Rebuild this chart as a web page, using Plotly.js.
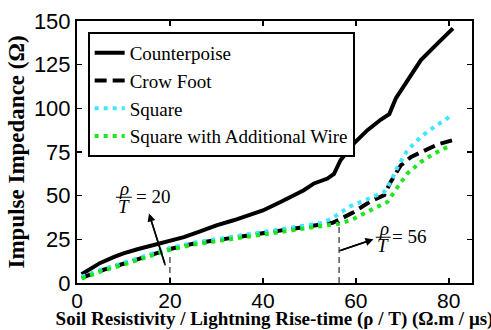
<!DOCTYPE html>
<html>
<head>
<meta charset="utf-8">
<script src="https://cdn.plot.ly/plotly-3.0.1.min.js"></script>
<style>html,body{margin:0;padding:0;background:#fff;}#chart{width:491px;height:330px;}</style>
</head>
<body>
<div id="chart"></div>
<script>
// Data
const seriesNames = ["Counterpoise", "Crow Foot", "Square", "Square with Additional Wire"];

const counterX = [1, 3, 5, 8, 10, 13, 15, 18, 20, 23, 26.5, 30, 33.7, 37.3, 40, 43.8, 46.7, 48.8, 51, 53.9, 55.3, 56.7, 59.6, 62.5, 65.4, 67.2, 68.6, 71.1, 74, 77.6, 80.9];
const counterY = [5, 8.5, 11.5, 15, 17, 19.3, 20.8, 22.8, 24, 26.3, 29.5, 33, 35.9, 38.8, 41.5, 46.4, 50.3, 53.1, 57, 59.8, 62.5, 70.3, 79.9, 87.5, 93.6, 96.7, 105.7, 116.2, 127.6, 137.2, 145.8];

const crowX = [1, 5, 10, 15, 20, 25, 30, 35, 40, 45, 50, 55, 56.4, 59.6, 63.2, 66.1, 67.5, 69.7, 71.9, 74.8, 77.6, 80.9];
const crowY = [3, 7, 11, 15.5, 19.5, 22.5, 24.5, 26.5, 28.5, 30.5, 32.5, 34.5, 36.2, 40.7, 46.8, 50.3, 57.9, 67.4, 72.2, 76, 79.3, 81.8];

const squareX = [1, 5, 10, 15, 20, 25, 30, 35, 40, 45, 50, 53, 54.8, 56.5, 58.9, 61.1, 63.9, 66.1, 67.5, 69, 71.1, 74, 76.9, 80.1];
const squareY = [3.5, 7.5, 11.5, 16, 20, 23, 25, 27, 29, 31, 33, 34.5, 37, 40, 44, 46.4, 49.3, 52.1, 57.9, 66.5, 76, 83.7, 89.4, 95.1];

const wireX = [1, 5, 10, 15, 20, 25, 30, 35, 40, 45, 50, 55, 56.7, 59.6, 63.2, 66.8, 69, 71.1, 74, 76.9, 80.5];
const wireY = [2.5, 6.5, 10.5, 15, 19, 22, 24, 26, 28, 30, 32, 33.5, 34, 36.9, 41.7, 46.4, 55, 62.7, 69.3, 74.2, 78.9];

const xTicks = [0, 20, 40, 60, 80];
const yTicks = [0, 25, 50, 75, 100, 125, 150];

// Marked ratios
const ratioA = 20, ratioALineTop = 15;
const ratioB = 56.4, ratioBLineTop = 35;

const serif = "Liberation Serif";
const sans = "Liberation Sans";

const traces = [
  {x: counterX, y: counterY, name: seriesNames[0], mode: "lines",
   line: {color: "#000000", width: 4}},
  {x: crowX, y: crowY, name: seriesNames[1], mode: "lines",
   line: {color: "#000000", width: 4, dash: "12px,6px"}},
  {x: squareX, y: squareY, name: seriesNames[2], mode: "lines",
   line: {color: "#3ee6ff", width: 4, dash: "4px,5px"}},
  {x: wireX, y: wireY, name: seriesNames[3], mode: "lines",
   line: {color: "#1ee61e", width: 4, dash: "4px,5px"}}
];

const fracFont = {family: serif, size: 19, color: "#000"};
const tinyFont = {family: serif, size: 1, color: "#000"};
const layout = {
  width: 491, height: 330,
  margin: {l: 77, r: 19, t: 21, b: 47},
  paper_bgcolor: "#fff", plot_bgcolor: "#fff",
  font: {family: serif, color: "#000"},
  showlegend: true,
  legend: {
    x: 0.027, y: 0.958, xanchor: "left", yanchor: "top",
    bgcolor: "#fff", bordercolor: "#000", borderwidth: 2,
    font: {family: serif, size: 19, color: "#000"},
    itemwidth: 30, tracegroupgap: 0
  },
  xaxis: {
    range: [0, 85], tickvals: xTicks, ticktext: xTicks.map(String),
    showgrid: false, zeroline: false, showline: true, mirror: "ticks",
    linecolor: "#000", linewidth: 2, ticks: "inside", ticklen: 5, tickwidth: 1.5, tickcolor: "#000",
    tickfont: {family: sans, size: 21, color: "#000"}, ticklabelstandoff: -2,
    title: {text: "<b>Soil Resistivity / Lightning Rise-time (ρ / T) (Ω.m / μs)</b>",
            font: {family: serif, size: 19, color: "#000"}, standoff: 0}
  },
  yaxis: {
    range: [0, 150], tickvals: yTicks, ticktext: yTicks.map(String),
    showgrid: false, zeroline: false, showline: true, mirror: "ticks",
    linecolor: "#000", linewidth: 2, ticks: "inside", ticklen: 5, tickwidth: 1.5, tickcolor: "#000",
    tickfont: {family: sans, size: 22, color: "#000"},
    title: {text: "<b>Impulse Impedance (Ω)</b>",
            font: {family: serif, size: 23, color: "#000"}, standoff: 3}
  },
  shapes: [
    {type: "line", xref: "x", yref: "y", x0: ratioA, x1: ratioA, y0: 0, y1: ratioALineTop,
     line: {color: "#000", width: 1, dash: "6px,4px"}},
    {type: "line", xref: "x", yref: "y", x0: ratioB, x1: ratioB, y0: 0, y1: ratioBLineTop,
     line: {color: "#000", width: 1, dash: "6px,4px"}},
    {type: "line", xref: "x", yref: "y", x0: 8.4, x1: 11.8, y0: 49.1, y1: 49.1,
     line: {color: "#000", width: 1}},
    {type: "line", xref: "x", yref: "y", x0: 64.3, x1: 67.5, y0: 26.2, y1: 26.2,
     line: {color: "#000", width: 1}},
    {type: "line", xref: "x", yref: "y", x0: 19, y0: 10.1, x1: 15.7, y1: 38,
     line: {color: "#000", width: 1.5}},
    {type: "line", xref: "x", yref: "y", x0: 56.5, y0: 18.5, x1: 63, y1: 24.3,
     line: {color: "#000", width: 1.5}}
  ],
  annotations: [
    {x: 15.5, y: 39.8, ax: 19, ay: 10.1, xref: "x", yref: "y", axref: "x", ayref: "y",
     text: " ", font: tinyFont, standoff: 0, startstandoff: 0,
     showarrow: true, arrowhead: 2, arrowsize: 1, arrowwidth: 1.6, arrowcolor: "#000"},
    {x: 63.8, y: 25, ax: 56.5, ay: 18.5, xref: "x", yref: "y", axref: "x", ayref: "y",
     text: " ", font: tinyFont, standoff: 0, startstandoff: 0,
     showarrow: true, arrowhead: 2, arrowsize: 1, arrowwidth: 1.6, arrowcolor: "#000"},
    {x: 10.1, y: 53.9, xref: "x", yref: "y", text: "<i>ρ</i>", showarrow: false, font: fracFont},
    {x: 10.1, y: 44, xref: "x", yref: "y", text: "<i>T</i>", showarrow: false, font: fracFont},
    {x: 12.2, y: 49.5, xref: "x", yref: "y", xanchor: "left", text: "= " + ratioA, showarrow: false, font: fracFont},
    {x: 66, y: 31.2, xref: "x", yref: "y", text: "<i>ρ</i>", showarrow: false, font: fracFont},
    {x: 65.8, y: 21.4, xref: "x", yref: "y", text: "<i>T</i>", showarrow: false, font: fracFont},
    {x: 67.4, y: 26.8, xref: "x", yref: "y", xanchor: "left", text: "= 56", showarrow: false, font: fracFont}
  ]
};

Plotly.newPlot("chart", traces, layout, {displayModeBar: false, staticPlot: true});
</script>
</body>
</html>
